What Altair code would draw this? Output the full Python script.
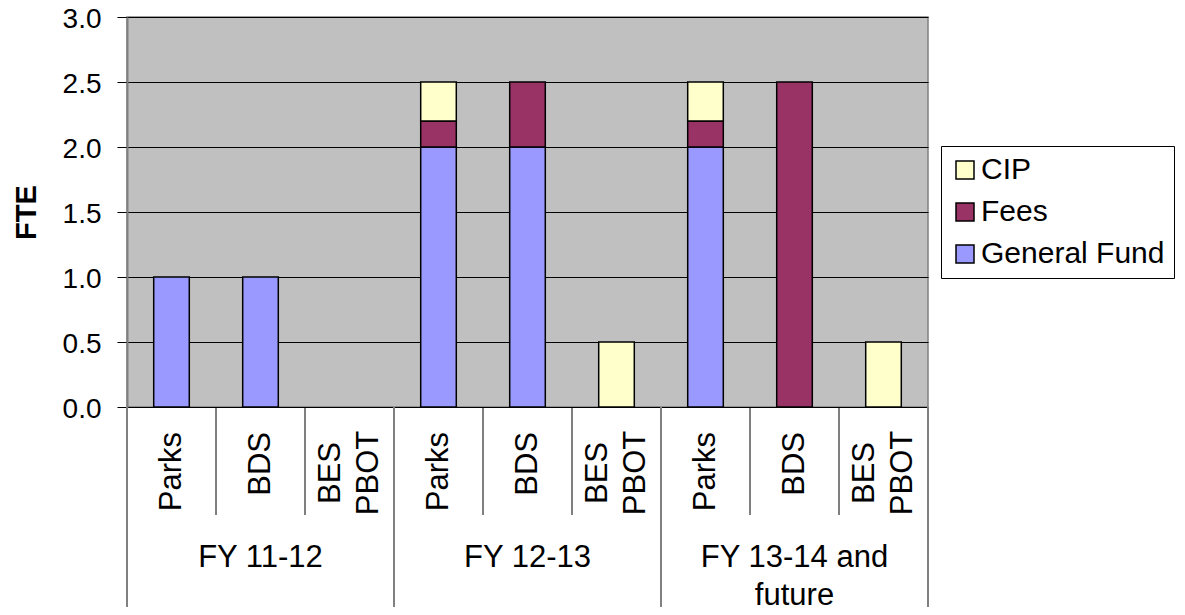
import altair as alt
import pandas as pd

# ---- data ----
years = ["FY 11-12", "FY 12-13", "FY 13-14 and\nfuture"]
depts = ["Parks", "BDS", "BES\nPBOT"]
general_fund = [1.0, 1.0, 0.0, 2.0, 2.0, 0.0, 2.0, 0.0, 0.0]
fees = [0.0, 0.0, 0.0, 0.2, 0.5, 0.0, 0.2, 2.5, 0.0]
cip = [0.0, 0.0, 0.0, 0.3, 0.0, 0.5, 0.3, 0.0, 0.5]
series_names = ["General Fund", "Fees", "CIP"]
legend_order = ["CIP", "Fees", "General Fund"]
legend_colors = ["#FFFFCC", "#993366", "#9999FF"]
y_ticks = [0.0, 0.5, 1.0, 1.5, 2.0, 2.5, 3.0]

FONT = "Liberation Sans"
FS = 31
FS_Y = 28

keys = [f"{yi}-{di}" for yi in range(len(years)) for di in range(len(depts))]

rows = []
for i, k in enumerate(keys):
    for s_i, (name, vals) in enumerate(zip(series_names, [general_fund, fees, cip])):
        if vals[i] > 0:
            rows.append({"key": k, "series": name, "value": vals[i], "ord": s_i})
bars_df = pd.DataFrame(rows)

lab_rows = []
for yi in range(len(years)):
    for di, d in enumerate(depts):
        lab_rows.append({"key": f"{yi}-{di}", "label": d, "multi": "\n" in d,
                         "first": di == 0})
lab_df = pd.DataFrame(lab_rows)
single_df = lab_df[~lab_df["multi"]]
multi_df = lab_df[lab_df["multi"]]
sub_sep_df = lab_df[~lab_df["first"]]
grp_sep_df = lab_df[lab_df["first"]]
last_df = lab_df.iloc[[-1]]
grp_df = pd.DataFrame({"key": [f"{yi}-1" for yi in range(len(years))], "label": years})

xenc = alt.X("key:N", sort=keys,
             scale=alt.Scale(domain=keys, paddingInner=0, paddingOuter=0),
             axis=None)

bars = alt.Chart(bars_df).mark_bar(
    stroke="black", strokeWidth=1.5, width=alt.RelativeBandSize(0.4)
).encode(
    x=xenc,
    y=alt.Y("value:Q", stack="zero",
            scale=alt.Scale(domain=[0, 3], nice=False),
            axis=alt.Axis(values=y_ticks, format=".1f", title="FTE",
                          labelFontSize=FS_Y, labelFont=FONT, labelColor="black",
                          labelOffset=2,
                          titleFontSize=FS_Y + 1, titleFont=FONT,
                          titleFontWeight="bold",
                          titleColor="black", titlePadding=21,
                          tickSize=10, tickColor="black", tickWidth=1,
                          labelPadding=16, grid=True, gridColor="black",
                          gridWidth=1, domainColor="#808080", domainWidth=2)),
    color=alt.Color("series:N",
                    scale=alt.Scale(domain=legend_order, range=legend_colors),
                    legend=alt.Legend(title=None, orient="none", legendX=814,
                                      legendY=129, strokeColor="black",
                                      fillColor="white", padding=9,
                                      symbolType="square", symbolSize=324,
                                      symbolStrokeColor="black",
                                      symbolStrokeWidth=1.5,
                                      labelFontSize=30, labelFont=FONT,
                                      labelColor="black", labelLimit=0,
                                      rowPadding=12, labelOffset=1)),
    order=alt.Order("ord:Q", sort="ascending"),
)

sub_sep = alt.Chart(sub_sep_df).mark_rule(color="black", strokeWidth=1).encode(
    x=alt.X("key:N", sort=keys, bandPosition=0), y=alt.value(390), y2=alt.value(498))
grp_sep = alt.Chart(grp_sep_df).mark_rule(color="#808080", strokeWidth=2).encode(
    x=alt.X("key:N", sort=keys, bandPosition=0), y=alt.value(390), y2=alt.value(620))
end_sep = alt.Chart(last_df).mark_rule(color="#808080", strokeWidth=2).encode(
    x=alt.X("key:N", sort=keys, bandPosition=1), y=alt.value(390), y2=alt.value(620))

single_txt = alt.Chart(single_df).mark_text(
    angle=270, align="right", baseline="middle", fontSize=FS, font=FONT, color="black"
).encode(x=alt.X("key:N", sort=keys), y=alt.value(415), text="label:N")

multi_txt = alt.Chart(multi_df).mark_text(
    angle=270, align="center", baseline="middle", fontSize=FS, font=FONT,
    color="black", lineBreak="\n", lineHeight=38, dy=-19
).encode(x=alt.X("key:N", sort=keys), y=alt.value(456), text="label:N")

grp_txt = alt.Chart(grp_df).mark_text(
    align="center", baseline="alphabetic", fontSize=FS, font=FONT, color="black",
    lineBreak="\n", lineHeight=38
).encode(x=alt.X("key:N", sort=keys), y=alt.value(550), text="label:N")

chart = alt.layer(
    bars, sub_sep, grp_sep, end_sep, single_txt, multi_txt, grp_txt
).properties(
    width=801, height=390,
    autosize=alt.AutoSizeParams(type="none"),
    padding={"left": 119, "top": 9, "right": 249, "bottom": 200},
    background="white",
).configure_view(
    fill="#C0C0C0", stroke="#808080", strokeWidth=1.5
)

chart.save("out.html", embed_options={"renderer": "svg", "actions": False})
